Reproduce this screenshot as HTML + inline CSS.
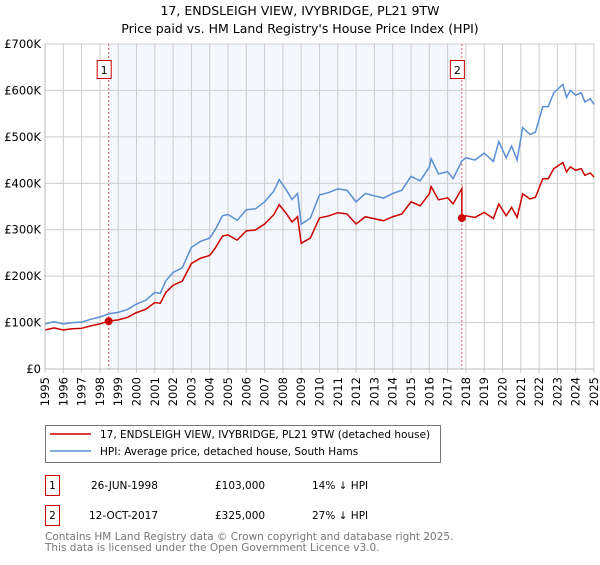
<!DOCTYPE html>
<html><head><meta charset="utf-8"><style>
body{margin:0;background:#fff;font-family:"Liberation Sans","DejaVu Sans",sans-serif;}
svg text{font-family:"DejaVu Sans","Liberation Sans",sans-serif;}
</style></head><body>
<svg width="600" height="560" viewBox="0 0 600 560" xmlns="http://www.w3.org/2000/svg">
<text x="300" y="15" text-anchor="middle" font-size="12.5">17, ENDSLEIGH VIEW, IVYBRIDGE, PL21 9TW</text>
<text x="300" y="33" text-anchor="middle" font-size="12.5">Price paid vs. HM Land Registry's House Price Index (HPI)</text>
<g id="plot"></g>
<g>
<rect x="45.5" y="425.5" width="395" height="37" fill="#fff" stroke="#777"/>
<line x1="50" y1="434" x2="91" y2="434" stroke="#cc0000" stroke-width="1.5"/>
<text x="100" y="438" font-size="10.5">17, ENDSLEIGH VIEW, IVYBRIDGE, PL21 9TW (detached house)</text>
<line x1="50" y1="451" x2="91" y2="451" stroke="#5b8fd4" stroke-width="1.5"/>
<text x="100" y="455" font-size="10.5">HPI: Average price, detached house, South Hams</text>
</g>
<g font-size="10.5">
<rect x="45.5" y="475.5" width="14" height="20" fill="#fff" stroke="#cc0000"/><text x="52.5" y="489" text-anchor="middle">1</text>
<text x="91" y="489">26-JUN-1998</text><text x="215" y="489">£103,000</text><text x="312" y="489">14% ↓ HPI</text>
<rect x="45.5" y="505.5" width="14" height="20" fill="#fff" stroke="#cc0000"/><text x="52.5" y="519" text-anchor="middle">2</text>
<text x="89" y="519">12-OCT-2017</text><text x="215" y="519">£325,000</text><text x="312" y="519">27% ↓ HPI</text>
</g>
<text x="45" y="540" font-size="10.5" fill="#777">Contains HM Land Registry data © Crown copyright and database right 2025.</text>
<text x="45" y="551" font-size="10.5" fill="#777">This data is licensed under the Open Government Licence v3.0.</text>
</svg>
<script>
const hpiYears=[1995,1995.5,1996,1996.5,1997,1997.5,1998,1998.5,1999,1999.5,2000,2000.5,2001,2001.3,2001.6,2002,2002.5,2003,2003.5,2004,2004.3,2004.7,2005,2005.5,2006,2006.5,2007,2007.5,2007.8,2008.2,2008.5,2008.8,2009,2009.5,2010,2010.5,2011,2011.5,2012,2012.5,2013,2013.5,2014,2014.5,2015,2015.5,2016,2016.1,2016.5,2017,2017.3,2017.78,2018,2018.5,2019,2019.5,2019.8,2020.2,2020.5,2020.8,2021.1,2021.5,2021.8,2022.2,2022.5,2022.8,2023.3,2023.5,2023.7,2024,2024.3,2024.5,2024.8,2025];
const hpiValues=[97,102,97,100,101,107,112,119,122,128,140,148,165,163,190,208,218,262,275,282,300,330,333,320,343,345,360,383,408,385,365,378,312,325,375,380,388,385,360,378,373,368,378,385,415,405,435,453,420,425,410,448,455,450,465,447,490,455,480,450,520,505,510,565,565,595,613,585,600,590,595,575,582,570];
const saleYears=[1998.48,2017.78];
const salePrices=[103,325];
const saleLabels=["1","2"];
const yTicks=[0,100,200,300,400,500,600,700];
const yTickLabels=["£0","£100K","£200K","£300K","£400K","£500K","£600K","£700K"];
const xTickYears=[1995,1996,1997,1998,1999,2000,2001,2002,2003,2004,2005,2006,2007,2008,2009,2010,2011,2012,2013,2014,2015,2016,2017,2018,2019,2020,2021,2022,2023,2024,2025];

const NS="http://www.w3.org/2000/svg";
const X0=45,X1=594,Y0=369,Y1=44;
const x=y=>X0+(y-1995)/30*(X1-X0);
const yv=v=>Y0-v/700*(Y0-Y1);
const g=document.getElementById('plot');
function mk(t,a){const e=document.createElementNS(NS,t);for(const k in a)e.setAttribute(k,a[k]);g.appendChild(e);return e;}
const sh=mk('rect',{x:x(saleYears[0]),y:Y1,width:x(saleYears[1])-x(saleYears[0]),height:Y0-Y1,fill:'#f4f7fd'});


xTickYears.forEach(yr=>{
 const l=mk('line',{x1:x(yr),x2:x(yr),y1:Y1,y2:Y0+4,stroke:'#ccc'});
 
 
 const t=mk('text',{x:0,y:0,'font-size':'11.5','text-anchor':'end',transform:`translate(${x(yr)+4},${Y0+8}) rotate(-90)`});
 t.textContent=yr;
 
 
});
yTicks.forEach((v,i)=>{
 const l=mk('line',{x1:X0,x2:X1,y1:yv(v),y2:yv(v),stroke:'#ccc'});
 
 
 const t=mk('text',{x:X0-4,y:yv(v)+4,'font-size':'11.5','text-anchor':'end'});
 t.textContent=yTickLabels[i];
 
 
});
saleYears.forEach((s,i)=>{
 const l=mk('line',{x1:x(s),x2:x(s),y1:Y1,y2:Y0,stroke:'#e06060','stroke-dasharray':'2,2'});
 
 
 const r=mk('rect',{x:x(s)-11.5,y:60.5,width:14,height:18,fill:'#fff',stroke:'#cc0000'});
 
 
 const t=mk('text',{x:x(s)-4.5,y:74,'font-size':'11','text-anchor':'middle'});
 t.textContent=saleLabels[i];
 
 
});
const hp=mk('polyline',{points:hpiYears.map((yr,i)=>x(yr)+','+yv(hpiValues[i])).join(' '),fill:'none',stroke:'#5b8fd4','stroke-width':1.5});


function hpiAt(t){for(let i=1;i<hpiYears.length;i++){if(t<=hpiYears[i]){const f=(t-hpiYears[i-1])/(hpiYears[i]-hpiYears[i-1]);return hpiValues[i-1]+f*(hpiValues[i]-hpiValues[i-1]);}}return hpiValues[hpiValues.length-1];}
const r1=salePrices[0]/hpiAt(saleYears[0]),r2=salePrices[1]/hpiAt(saleYears[1]);
const pts=[];
hpiYears.forEach((yr,i)=>{
 if(yr<saleYears[1]) pts.push(x(yr)+','+yv(hpiValues[i]*r1));
 else{ if(yr===saleYears[1]) pts.push(x(yr)+','+yv(hpiValues[i]*r1)); pts.push(x(yr)+','+yv(hpiValues[i]*r2)); }
});
const pl=mk('polyline',{points:pts.join(' '),fill:'none',stroke:'#cc0000','stroke-width':1.5});


saleYears.forEach((s,i)=>{
 const c=mk('circle',{cx:x(s),cy:yv(salePrices[i]),r:4,fill:'#cc0000'});
 
 
});
const ax=mk('path',{d:`M${X0},${Y1}V${Y0}H${X1}`,fill:'none',stroke:'#bbb'});


</script>
</body></html>
